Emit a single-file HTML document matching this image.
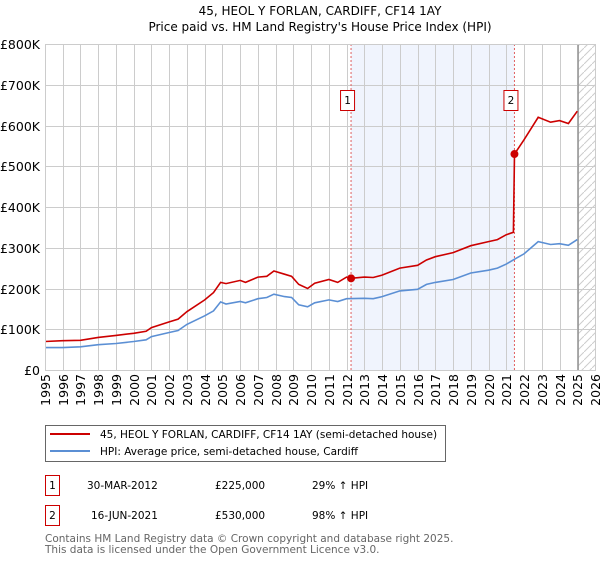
<!DOCTYPE html>
<html><head><meta charset="utf-8"><style>
body{margin:0;background:#fff;}
svg text{font-family:"DejaVu Sans","Liberation Sans",sans-serif;}
</style></head><body>
<svg id="chart" width="600" height="560" xmlns="http://www.w3.org/2000/svg">
<text x="320" y="15" text-anchor="middle" font-size="12" fill="#000">45, HEOL Y FORLAN, CARDIFF, CF14 1AY</text>
<text x="320" y="31" text-anchor="middle" font-size="12" fill="#000">Price paid vs. HM Land Registry's House Price Index (HPI)</text>
<g id="plot"></g>
<g>
<rect x="45.5" y="425.5" width="400" height="36" fill="#fff" stroke="#666"/>
<line x1="50" y1="434" x2="90" y2="434" stroke="#cc0000" stroke-width="2"/>
<text x="100" y="438" font-size="10.5">45, HEOL Y FORLAN, CARDIFF, CF14 1AY (semi-detached house)</text>
<line x1="50" y1="451" x2="90" y2="451" stroke="#5b8fd4" stroke-width="2"/>
<text x="100" y="455" font-size="10.5">HPI: Average price, semi-detached house, Cardiff</text>
</g>
<g font-size="10.5">
<rect x="45.5" y="475.5" width="14" height="20" fill="#fff" stroke="#cc0000"/>
<text x="52.5" y="489" text-anchor="middle">1</text>
<text x="87" y="489">30-MAR-2012</text>
<text x="215" y="489">£225,000</text>
<text x="312" y="489">29% ↑ HPI</text>
<rect x="45.5" y="505.5" width="14" height="20" fill="#fff" stroke="#cc0000"/>
<text x="52.5" y="519" text-anchor="middle">2</text>
<text x="91" y="519">16-JUN-2021</text>
<text x="215" y="519">£530,000</text>
<text x="312" y="519">98% ↑ HPI</text>
</g>
<text x="45" y="542" font-size="10.5" fill="#666">Contains HM Land Registry data © Crown copyright and database right 2025.</text>
<text x="45" y="553" font-size="10.5" fill="#666">This data is licensed under the Open Government Licence v3.0.</text>
</svg>
<script>
const yearTicks=[1995,1996,1997,1998,1999,2000,2001,2002,2003,2004,2005,2006,2007,2008,2009,2010,2011,2012,2013,2014,2015,2016,2017,2018,2019,2020,2021,2022,2023,2024,2025,2026];
const valueTicks=[0,100000,200000,300000,400000,500000,600000,700000,800000];
const valueTickLabels=["£0","£100K","£200K","£300K","£400K","£500K","£600K","£700K","£800K"];
const hpiDates=[1995,1996,1997,1998,1999,2000,2000.7,2001,2002,2002.5,2003,2004,2004.5,2004.9,2005.2,2006,2006.3,2007,2007.5,2007.9,2008.5,2008.9,2009.3,2009.8,2010.2,2011,2011.5,2012,2013,2013.5,2014,2015,2016,2016.5,2017,2018,2019,2020,2020.5,2021,2021.5,2022,2022.8,2023.5,2024,2024.5,2025];
const hpiValues=[55,55,57,62,65,70,74,82,92,97,112,133,145,167,162,168,165,175,178,186,180,178,160,155,165,172,168,175,176,175,180,194,198,210,215,222,238,245,250,260,273,285,315,308,310,306,320];
const priceDates=[1995,1996,1997,1998,1999,2000,2000.7,2001,2002,2002.5,2003,2004,2004.5,2004.9,2005.2,2006,2006.3,2007,2007.5,2007.9,2008.5,2008.9,2009.3,2009.8,2010.2,2011,2011.5,2012,2012.25,2013,2013.5,2014,2015,2016,2016.5,2017,2018,2019,2020,2020.5,2021,2021.4,2021.46,2022,2022.8,2023.5,2024,2024.5,2025];
const priceValues=[70,72,73,80,85,90,95,104,118,125,143,172,190,215,212,220,215,228,230,243,235,230,210,200,213,222,215,228,225,228,227,233,250,257,270,278,288,305,315,320,332,338,530,565,620,608,612,605,635];
const saleDates=[2012.25,2021.46];
const saleValues=[225000,530000];
const saleLabels=["1","2"];
const L=45,R=595,T=44,B=370,X0=1995,X1=2026,YMAX=800000,HATCH=2025.05;
const x=d=>L+(d-X0)/(X1-X0)*(R-L);
const y=v=>B-v/YMAX*(B-T);
const NS="http://www.w3.org/2000/svg";
const g=document.getElementById('plot');
function mk(t,a){const e=document.createElementNS(NS,t);for(const k in a)e.setAttribute(k,a[k]);g.appendChild(e);return e;}
let sh=mk('rect',{x:x(saleDates[0]),y:T,width:x(saleDates[1])-x(saleDates[0]),height:B-T,fill:'#f0f4fd'});


const defs=mk('defs',{});
defs.innerHTML='<pattern id="h" width="8" height="8" patternUnits="userSpaceOnUse"><path d="M0,8 L8,0" stroke="#ccc" stroke-width="1"/></pattern>';
let hr=mk('rect',{x:x(HATCH),y:T,width:R-x(HATCH),height:B-T,fill:'url(#h)'});


yearTicks.forEach(yr=>{const xx=Math.round(x(yr))+0.5;
 let l=mk('line',{x1:xx,y1:T,x2:xx,y2:B,stroke:'#ccc'});
 
 
 let t=mk('text',{x:0,y:0,'font-size':'12.5',transform:`translate(${xx+4.5},${B+4}) rotate(-90)`,'text-anchor':'end'});
 t.textContent=yr;
 
 
});
valueTicks.forEach((v,i)=>{const yy=Math.round(y(v))+0.5;
 let l=mk('line',{x1:L,y1:yy,x2:R,y2:yy,stroke:'#ccc'});
 
 
 let t=mk('text',{x:L-5,y:yy+4.5,'font-size':'12.5','text-anchor':'end'});
 t.textContent=valueTickLabels[i];
 
 
});
let cl=mk('line',{x1:x(HATCH),y1:T,x2:x(HATCH),y2:B,stroke:'#999','stroke-width':1.5});


saleDates.forEach((d,i)=>{
 let l=mk('line',{x1:x(d),y1:T,x2:x(d),y2:B,stroke:'#e06060','stroke-dasharray':'2,2'});
 
 
});
function path(ds,vs,col,name){
 let p=ds.map((d,i)=>(i?'L':'M')+x(d).toFixed(1)+','+y(vs[i]*1000).toFixed(1)).join('');
 let e=mk('path',{d:p,fill:'none',stroke:col,'stroke-width':1.6});
 
 
}
path(hpiDates,hpiValues,'#5b8fd4','hpi-line');
path(priceDates,priceValues,'#cc0000','price-line');
saleDates.forEach((d,i)=>{
 let c=mk('circle',{cx:x(d),cy:y(saleValues[i]),r:4,fill:'#cc0000'});
 
 
 let bx=mk('rect',{x:x(d)-10.5,y:90.5,width:14,height:20,fill:'#fff',stroke:'#cc0000'});
 
 
 let t=mk('text',{x:x(d)-3.5,y:104,'font-size':'10.5','text-anchor':'middle'});
 t.textContent=saleLabels[i];
 
 
});
let fr=mk('rect',{x:L+0.5,y:T+0.5,width:R-L,height:B-T,fill:'none',stroke:'#ccc'});


</script>
</body></html>
